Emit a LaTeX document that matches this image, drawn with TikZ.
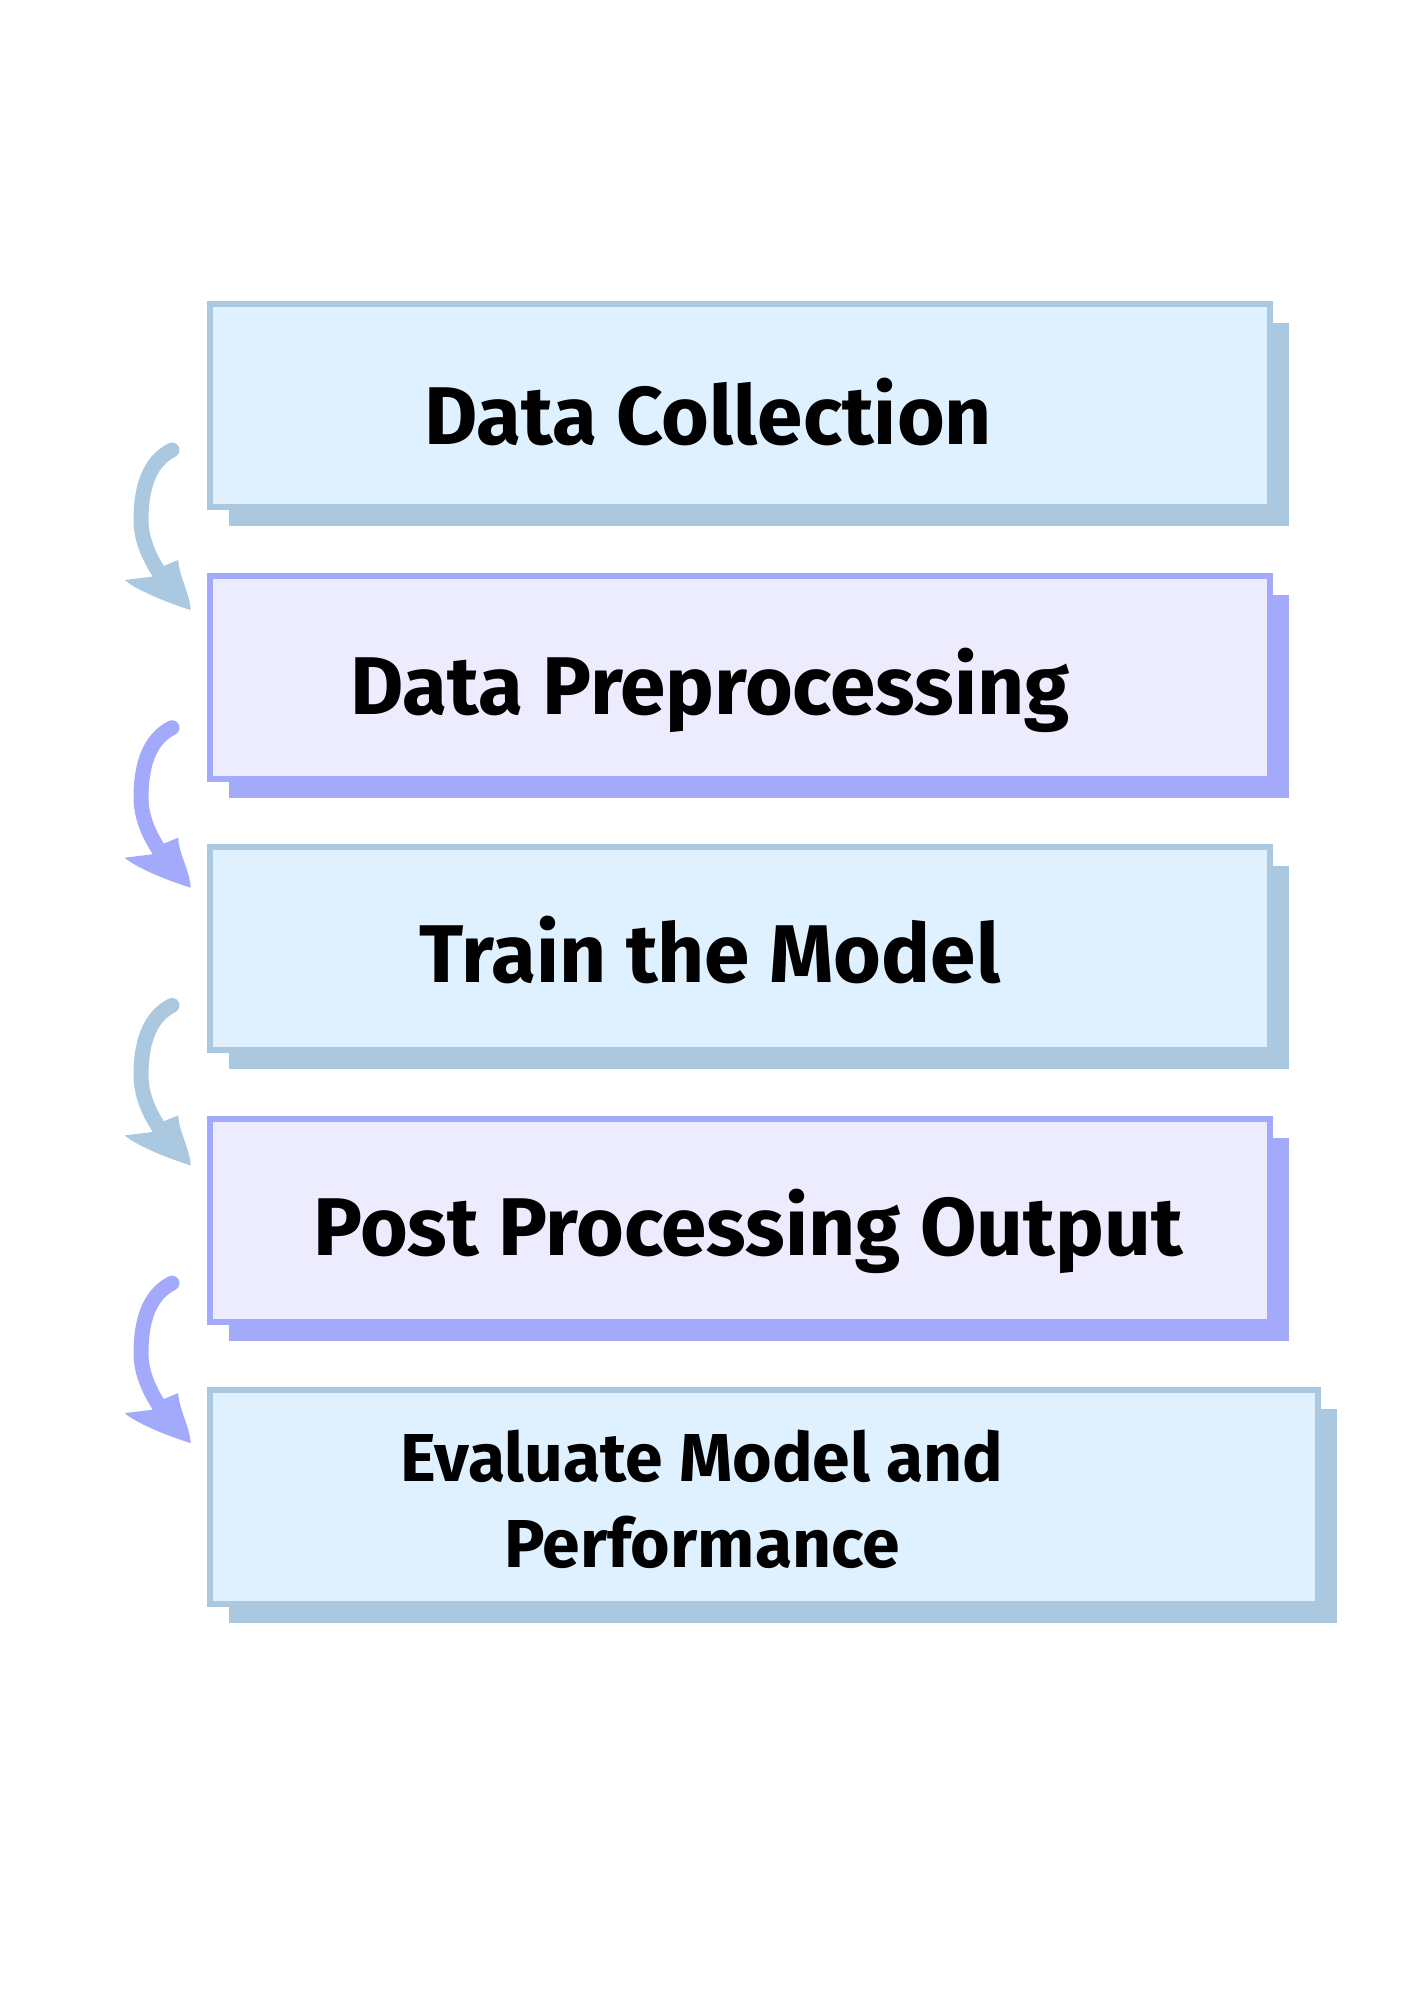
\documentclass[tikz,border=0pt]{standalone}
\usepackage{fontspec}
\setmainfont{Fira Sans}
\usepackage{tikz}
\usetikzlibrary{positioning, shadows}
\definecolor{blueFill}{HTML}{DFF0FE}
\definecolor{blueEdge}{HTML}{AAC8E0}
\definecolor{purpleFill}{HTML}{ECECFE}
\definecolor{purpleEdge}{HTML}{A3AAFB}
\tikzstyle{bluebox} = [rectangle, minimum width=10.6cm, minimum height=2.03cm, draw=blueEdge, line width=0.06cm, fill=blueFill, general shadow={fill=blueEdge, shadow xshift=0.19cm, shadow yshift=-0.19cm}]
\tikzstyle{purplebox} = [rectangle, minimum width=10.6cm, minimum height=2.03cm, draw=purpleEdge, line width=0.06cm, fill=purpleFill, general shadow={fill=purpleEdge, shadow xshift=0.19cm, shadow yshift=-0.19cm}]
\tikzstyle{steptext} = [font=\bfseries\fontsize{23.3}{28}\selectfont, anchor=base, inner sep=0pt]
\tikzstyle{flowline} = [line width=0.15cm, line cap=round]

\begin{document}
\begin{tikzpicture}[node distance=0.625cm]
\useasboundingbox (0,0) rectangle (14.14,-20);

\node (b1) [bluebox] at (7.40,-4.055) {};
\node (b2) [purplebox, below=of b1] {};
\node (b3) [bluebox, below=of b2] {};
\node (b4) [purplebox, below=of b3] {};
\node (b5) [bluebox, minimum width=11.08cm, minimum height=2.14cm, below=of b4.south west, anchor=north west] {};

\node (t1) [steptext] at ([xshift=-0.32cm, yshift=-0.385cm]b1.center) {Data Collection};
\node (t2) [steptext] at ([xshift=-0.30cm, yshift=-0.375cm]b2.center) {Data Preprocessing};
\node (t3) [steptext] at ([xshift=-0.30cm, yshift=-0.34cm]b3.center) {Train the Model};
\node (t4) [steptext] at ([xshift=0.08cm, yshift=-0.355cm]b4.center) {Post Processing Output};
\node (t5) [font=\bfseries\fontsize{19.3}{24.4}\selectfont, align=center, inner sep=0pt] at ([xshift=-0.62cm, yshift=-0.02cm]b5.center) {Evaluate Model and\\Performance};

% curved arrows on the left, the head is drawn as a filled shape
\foreach \i/\col in {1/blueEdge, 2/purpleEdge, 3/blueEdge, 4/purpleEdge} {
  \coordinate (s\i) at (1.72, {-4.50-2.777*(\i-1)});
  \coordinate (e\i) at (1.907, {-6.10-2.777*(\i-1)});
  \coordinate (h\i) at ([shift={(-0.28,0.32)}]e\i);
  \draw [flowline, \col] (s\i) .. controls +(-0.24,-0.12) and +(0,0.30) .. ([shift={(-0.31,-0.70)}]s\i) .. controls +(0,-0.25) and +(-0.08,0.12) .. (h\i);
  \fill [\col] (e\i) .. controls +(-0.01,0.17) and +(0.01,-0.17) .. ([shift={(-0.125,0.50)}]e\i) -- ([shift={(-0.29,0.433)}]e\i) -- ([shift={(-0.39,0.333)}]e\i) -- ([shift={(-0.66,0.30)}]e\i) .. controls +(0.10,-0.09) and +(-0.26,0.08) .. (e\i) -- cycle;
}

\end{tikzpicture}
\end{document}
